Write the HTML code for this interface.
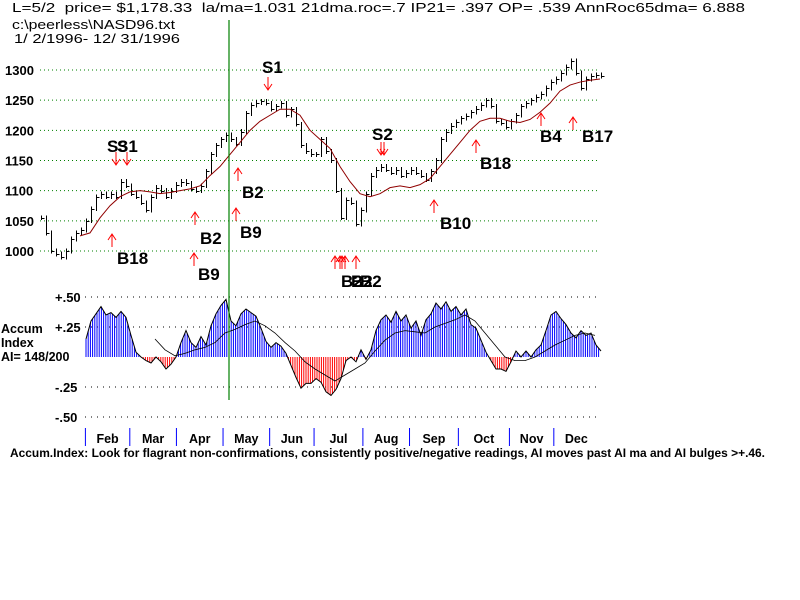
<!DOCTYPE html>
<html><head><meta charset="utf-8"><style>
body{margin:0;background:#fff;width:800px;height:600px;overflow:hidden}
svg{display:block;font-family:"Liberation Sans",Arial,sans-serif}
text{white-space:pre}
</style></head><body>
<svg id="c" width="800" height="600" viewBox="0 0 800 600">
<g font-size="13" fill="#000">
<text x="12" y="12" textLength="733" lengthAdjust="spacingAndGlyphs">L=5/2  price= $1,178.33  la/ma=1.031 21dma.roc=.7 IP21= .397 OP= .539 AnnRoc65dma= 6.888</text>
<text x="12" y="29" textLength="163" lengthAdjust="spacingAndGlyphs">c:\peerless\NASD96.txt</text>
<text x="14" y="43" textLength="166" lengthAdjust="spacingAndGlyphs">1/ 2/1996- 12/ 31/1996</text>
</g>
<g id="grid"></g>
<g id="price" shape-rendering="crispEdges"></g>
<g id="accum"></g>
<g id="sig" font-weight="bold" font-size="17"></g>
<line x1="229" y1="20" x2="229" y2="400" stroke="#008000" stroke-width="1.2"/>
<text x="10" y="457" font-size="11.5" font-weight="bold" textLength="755" lengthAdjust="spacingAndGlyphs">Accum.Index: Look for flagrant non-confirmations, consistently positive/negative readings, AI moves past AI ma and AI bulges &gt;+.46.</text>
</svg>
<script>
const priceTicks=[1300,1250,1200,1150,1100,1050,1000];
const accTicks=[0.5,0.25,-0.25,-0.5];
const accTickLabels=["+.50","+.25","-.25","-.50"];
const months=["Feb","Mar","Apr","May","Jun","Jul","Aug","Sep","Oct","Nov","Dec"];
const monthStartDay=[20,40,61,82,103,123,145,166,188,211,231];
const closes=[1055,1030,1000,995,990,1000,1020,1030,1035,1050,1070,1090,1095,1090,1095,1090,1115,1108,1095,1090,1080,1068,1090,1105,1100,1090,1100,1110,1115,1112,1103,1100,1108,1132,1160,1175,1185,1192,1185,1178,1198,1228,1242,1246,1248,1245,1235,1240,1245,1225,1235,1210,1175,1165,1160,1160,1185,1165,1150,1100,1055,1085,1080,1045,1068,1095,1125,1135,1140,1135,1130,1135,1125,1130,1135,1130,1125,1118,1132,1150,1185,1198,1208,1214,1220,1224,1230,1236,1242,1250,1240,1215,1212,1205,1215,1225,1240,1245,1250,1255,1260,1270,1280,1285,1295,1305,1315,1295,1270,1285,1290,1292,1290];
const priceMA=[1025,1030,1055,1075,1090,1098,1100,1098,1095,1097,1100,1103,1108,1125,1140,1160,1180,1200,1215,1225,1235,1235,1225,1200,1185,1170,1140,1115,1095,1090,1095,1105,1108,1105,1110,1120,1140,1160,1180,1200,1215,1220,1220,1215,1213,1218,1230,1245,1265,1275,1280,1283,1285];
const accum=[.15,.30,.36,.42,.35,.37,.33,.38,.33,.18,.04,0,-.03,-.05,0,-.04,-.10,-.06,0,.12,.22,.12,.08,.17,.10,.26,.36,.43,.48,.30,.26,.36,.40,.37,.34,.24,.13,.08,.12,.09,.03,-.07,-.17,-.26,-.22,-.22,-.18,-.21,-.29,-.32,-.27,-.18,-.03,0,-.04,.06,-.02,.06,.22,.31,.35,.29,.38,.30,.35,.24,.30,.18,.31,.36,.45,.40,.46,.38,.42,.35,.40,.27,.24,.14,.04,-.03,-.10,-.10,-.12,-.04,.05,0,.05,0,.06,.10,.22,.35,.38,.32,.27,.20,.16,.22,.18,.20,.10,.05];
const accMA=[.15,.06,.01,.03,.06,.08,.12,.20,.23,.27,.30,.26,.20,.12,.05,-.04,-.10,-.15,-.20,-.15,-.10,-.05,.05,.14,.20,.22,.21,.20,.25,.28,.31,.35,.30,.20,.10,0,-.03,-.03,0,.05,.10,.14,.18,.20,.18];
const signals=[
 {t:"S1",d:-1,ax:268,ay:77,tx:262,ty:73},
 {t:"S3",d:-1,ax:116,ay:152,tx:107,ty:152},
 {t:"S1",d:-1,ax:127,ay:152,tx:117,ty:152},
 {t:"B18",d:1,ax:112,ay:234,tx:117,ty:264},
 {t:"B2",d:1,ax:195,ay:212,tx:200,ty:244},
 {t:"B9",d:1,ax:194,ay:253,tx:198,ty:280},
 {t:"B2",d:1,ax:238,ay:168,tx:242,ty:198},
 {t:"B9",d:1,ax:236,ay:208,tx:240,ty:238},
 {t:"S2",d:-1,ax:381,ay:142,tx:372,ty:140},
 {t:"S2",d:-1,ax:384,ay:142,tx:0,ty:0},
 {t:"B2",d:1,ax:335,ay:256,tx:341,ty:287},
 {t:"B2",d:1,ax:340,ay:256,tx:351,ty:287},
 {t:"B2",d:1,ax:342,ay:256,tx:0,ty:0},
 {t:"B2",d:1,ax:345,ay:256,tx:0,ty:0},
 {t:"B2",d:1,ax:356,ay:256,tx:360,ty:287},
 {t:"B10",d:1,ax:434,ay:200,tx:440,ty:229},
 {t:"B18",d:1,ax:476,ay:140,tx:480,ty:169},
 {t:"B4",d:1,ax:541,ay:113,tx:540,ty:142},
 {t:"B17",d:1,ax:573,ay:117,tx:582,ty:142}
];
const NS="http://www.w3.org/2000/svg";
function mk(p,tag,a){const e=document.createElementNS(NS,tag);for(const k in a)e.setAttribute(k,a[k]);p.appendChild(e);return e;}
const py=v=>70+(1300-v)*0.6033;
const ay=v=>357-v*120;
const dayX=d=>41+d*2.22;
const idxX=(i,n,x0,x1)=>x0+(x1-x0)*i/(n-1);
const G=document.getElementById('grid'),P=document.getElementById('price'),A=document.getElementById('accum'),S=document.getElementById('sig');
priceTicks.forEach(v=>{
 const l=mk(G,'line',{x1:40,x2:600,y1:py(v),y2:py(v),stroke:'#008000','stroke-dasharray':'1 3'});
 
 
 const t=mk(G,'text',{x:5,y:py(v)+5,'font-size':13,'font-weight':'bold'});t.textContent=v;
 
 
});
accTicks.forEach((v,i)=>{
 const l=mk(G,'line',{x1:85,x2:600,y1:ay(v),y2:ay(v),stroke:'#000','stroke-dasharray':'1 5'});
 
 
 const t=mk(G,'text',{x:55,y:ay(v)+5,'font-size':13,'font-weight':'bold'});t.textContent=accTickLabels[i];
 
 
});
[["Accum",333],["Index",347],["AI= 148/200",361]].forEach(a=>{
 const t=mk(G,'text',{x:1,y:a[1],'font-size':12.5,'font-weight':'bold'});t.textContent=a[0];
 
 
});
months.forEach((m,i)=>{
 const x=dayX(monthStartDay[i]);
 const l=mk(G,'line',{x1:x,x2:x,y1:428,y2:446,stroke:'#0000ff'});
 
 
 const nx=i<months.length-1?dayX(monthStartDay[i+1]):x+45;
 const t=mk(G,'text',{x:(x+nx)/2,y:443,'font-size':12.5,'font-weight':'bold','text-anchor':'middle'});t.textContent=m;
 
 
});
closes.forEach((c,i)=>{
 const x=Math.round(idxX(i,closes.length,41,601))+0.5;
 const prev=i?closes[i-1]:c;
 const hi=Math.max(prev,c)+4,lo=Math.min(prev,c)-4;
 const b=mk(P,'path',{d:`M${x},${py(hi)}V${py(lo)}M${x},${Math.round(py(c))+0.5}h3`,stroke:'#000','stroke-width':1,fill:'none'});
 
 
});
const maPl=mk(P,'polyline',{points:priceMA.map((v,i)=>idxX(i,priceMA.length,80,600)+','+py(v)).join(' '),fill:'none',stroke:'#900000','stroke-width':1,'shape-rendering':'auto'});


const n=accum.length,x0=86,x1=601;
const accAt=x=>{const f=(x-x0)/(x1-x0)*(n-1);const i=Math.min(n-2,Math.floor(f));const t=f-i;return accum[i]*(1-t)+accum[i+1]*t;};
for(let x=x0;x<=x1-1;x+=2.2){
 const v=accAt(x);
 const l=mk(A,'line',{x1:x,x2:x,y1:ay(0),y2:ay(v),stroke:v>=0?'#0000ff':'#ff0000','stroke-width':1});
 
 
}
const ol=mk(A,'polyline',{points:accum.map((v,i)=>idxX(i,n,x0,x1)+','+ay(v)).join(' '),fill:'none',stroke:'#000','stroke-width':1});


const am=mk(A,'polyline',{points:accMA.map((v,i)=>idxX(i,accMA.length,155,595)+','+ay(v)).join(' '),fill:'none',stroke:'#000','stroke-width':0.8});


signals.forEach(s=>{
 const len=13,y0=s.ay,y1=s.ay+len;
 const d=s.d>0?`M${s.ax},${y1}V${y0}M${s.ax-4},${y0+6}L${s.ax},${y0}L${s.ax+4},${y0+6}`:`M${s.ax},${y0}V${y1}M${s.ax-4},${y1-6}L${s.ax},${y1}L${s.ax+4},${y1-6}`;
 const a=mk(S,'path',{d,stroke:'#ff0000','stroke-width':1,fill:'none'});
 
 
 if(s.tx){const t=mk(S,'text',{x:s.tx,y:s.ty});t.textContent=s.t;
 
 }
});
</script>
</body></html>
